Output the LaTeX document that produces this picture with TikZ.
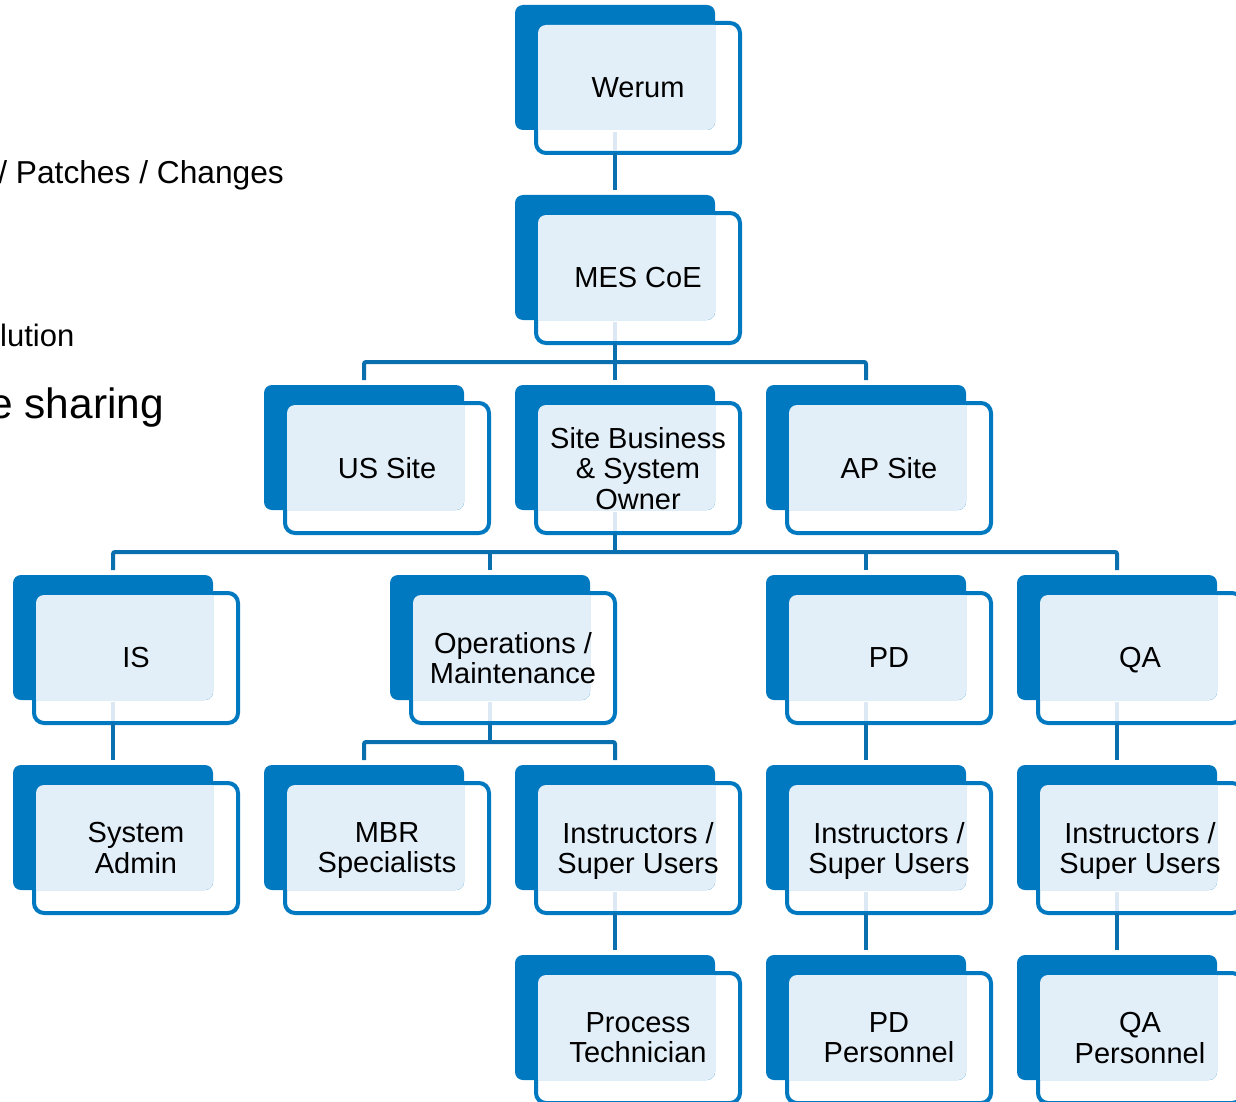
\documentclass[tikz,border=0pt]{standalone}
\usepackage{fontspec}
\setmainfont{Liberation Sans}
\definecolor{darkblue}{HTML}{0079C1}
\definecolor{connblue}{HTML}{0A6FAE}
\definecolor{lightfill}{HTML}{E2EFF8}
\definecolor{faintblue}{HTML}{DCE9F5}
\tikzset{
  frontbox/.style={rectangle, draw=darkblue, fill=white, line width=4pt, rounded corners=10pt,
    minimum width=204pt, minimum height=130pt, inner sep=0pt, outer sep=0pt},
  backbox/.style={rectangle, fill=darkblue, draw=none, rounded corners=8pt,
    minimum width=200pt, minimum height=125pt, inner sep=0pt, outer sep=0pt},
  boxtext/.style={align=center, inner sep=0pt, font=\fontsize{29}{30.5}\selectfont, text=black},
  conn/.style={draw=connblue, line width=4pt},
  faint/.style={draw=faintblue, line width=4pt},
  sidetext/.style={inner sep=0pt, text=black},
}
\newcommand{\orgbox}[3]{%
  \node[frontbox] (#1-f) at ({#2+123},{#3+83}) {};
  \node[backbox] (#1) at ({#2+100},{#3+62.5}) {};
  \begin{scope}
    \clip[rounded corners=8pt] ({#2},{#3}) rectangle ({#2+200},{#3+125});
    \fill[lightfill, rounded corners=8pt] ({#2+23},{#3+20}) rectangle ({#2+223},{#3+146});
  \end{scope}
}
\newcommand{\orgtext}[3]{%
  \node[boxtext, anchor=north] (#1-t) at ([yshift={(10.6+15.25*(#2-1))*1pt}]#1-f.center) {#3};
}
\newcommand{\faintline}[1]{%
  \draw[faint] ([yshift=-2pt]#1.south) -- ([yshift=2pt]#1.center |- #1-f.south);
}
\begin{document}
\begin{tikzpicture}[x=1pt,y=-1pt]
\useasboundingbox (0,0) rectangle (1236,1102);
\fill[white] (0,0) rectangle (1236,1102);

% side text fragments
\node[sidetext, anchor=base east, font=\fontsize{31.7}{36}\selectfont] (s1) at (284,184) {/ Patches / Changes};
\node[sidetext, anchor=base west, font=\fontsize{31}{36}\selectfont] (s2) at (0,346) {lution};
\node[sidetext, anchor=base east, font=\fontsize{42.4}{48}\selectfont] (s3) at (164,418) {e sharing};

% boxes
\orgbox{werum}{515}{5}
\orgbox{mes}{515}{195}
\orgbox{us}{264}{385}
\orgbox{site}{515}{385}
\orgbox{ap}{766}{385}
\orgbox{is}{13}{575}
\orgbox{ops}{390}{575}
\orgbox{pd}{766}{575}
\orgbox{qa}{1017}{575}
\orgbox{sysadm}{13}{765}
\orgbox{mbr}{264}{765}
\orgbox{insta}{515}{765}
\orgbox{instb}{766}{765}
\orgbox{instc}{1017}{765}
\orgbox{proc}{515}{955}
\orgbox{pdp}{766}{955}
\orgbox{qap}{1017}{955}

% faint stubs inside boxes with children
\foreach \n in {werum,mes,site,is,ops,pd,qa,insta,instb,instc}{\faintline{\n}}

% connectors
\coordinate (bus1) at (615,362);
\coordinate (bus2) at (615,552);
\coordinate (bus3) at (490,742);
\draw[conn] (werum.center |- werum-f.south) -- ([yshift=5pt]mes.north);
\draw[conn] (mes.center |- mes-f.south) -- ([yshift=5pt]site.north);
\draw[conn, rounded corners=2pt] ([yshift=5pt]us.north) |- (bus1) -| ([yshift=5pt]ap.north);
\draw[conn] (site.center |- site-f.south) -- (bus2);
\draw[conn, rounded corners=2pt] ([yshift=5pt]is.north) |- (bus2) -| ([yshift=5pt]qa.north);
\draw[conn] ([yshift=5pt]ops.north) -- (ops.north |- bus2);
\draw[conn] ([yshift=5pt]pd.north) -- (pd.north |- bus2);
\draw[conn] (is.center |- is-f.south) -- ([yshift=5pt]sysadm.north);
\draw[conn] (ops.center |- ops-f.south) -- (bus3);
\draw[conn, rounded corners=2pt] ([yshift=5pt]mbr.north) |- (bus3) -| ([yshift=5pt]insta.north);
\draw[conn] (pd.center |- pd-f.south) -- ([yshift=5pt]instb.north);
\draw[conn] (qa.center |- qa-f.south) -- ([yshift=5pt]instc.north);
\draw[conn] (insta.center |- insta-f.south) -- ([yshift=5pt]proc.north);
\draw[conn] (instb.center |- instb-f.south) -- ([yshift=5pt]pdp.north);
\draw[conn] (instc.center |- instc-f.south) -- ([yshift=5pt]qap.north);

% texts
\orgtext{werum}{1}{Werum}
\orgtext{mes}{1}{MES CoE}
\orgtext{us}{1}{US Site}
\orgtext{site}{3}{Site Business\\\& System\\Owner}
\orgtext{ap}{1}{AP Site}
\orgtext{is}{1}{IS}
\orgtext{ops}{2}{Operations /\\Maintenance}
\orgtext{pd}{1}{PD}
\orgtext{qa}{1}{QA}
\orgtext{sysadm}{2}{System\\Admin}
\orgtext{mbr}{2}{MBR\\Specialists}
\orgtext{insta}{2}{Instructors /\\Super Users}
\orgtext{instb}{2}{Instructors /\\Super Users}
\orgtext{instc}{2}{Instructors /\\Super Users}
\orgtext{proc}{2}{Process\\Technician}
\orgtext{pdp}{2}{PD\\Personnel}
\orgtext{qap}{2}{QA\\Personnel}
\end{tikzpicture}
\end{document}
